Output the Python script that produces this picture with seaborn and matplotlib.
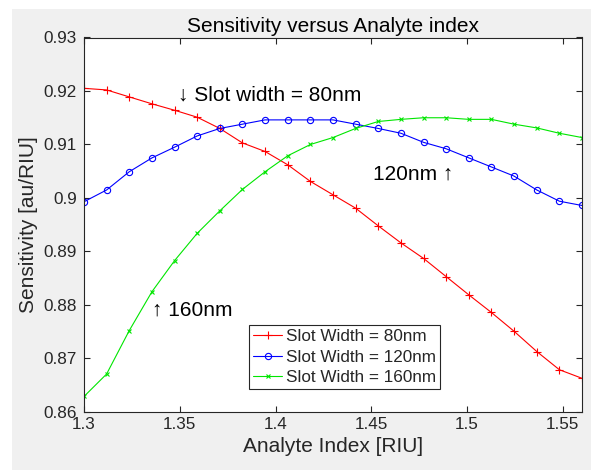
import pandas as pd
import matplotlib.pyplot as plt
import seaborn as sns
from matplotlib.patches import Rectangle
from matplotlib.ticker import FuncFormatter

analyte_index = [1.3, 1.3118, 1.3236, 1.3355, 1.3473, 1.3591, 1.3709, 1.3827,
                 1.3945, 1.4064, 1.4182, 1.43, 1.4418, 1.4536, 1.4655, 1.4773,
                 1.4891, 1.5009, 1.5127, 1.5245, 1.5364, 1.5482, 1.56]
sens_80 = [0.9205, 0.9202, 0.9189, 0.9176, 0.9164, 0.9151, 0.9130, 0.9103,
           0.9087, 0.9062, 0.9031, 0.9006, 0.8981, 0.8948, 0.8916, 0.8887,
           0.8853, 0.8819, 0.8786, 0.8751, 0.8713, 0.8679, 0.8663]
sens_120 = [0.8993, 0.9015, 0.9049, 0.9075, 0.9095, 0.9116, 0.9130, 0.9138,
            0.9146, 0.9146, 0.9146, 0.9146, 0.9138, 0.9130, 0.9121, 0.9104,
            0.9092, 0.9075, 0.9058, 0.9041, 0.9015, 0.8994, 0.8986]
sens_160 = [0.8629, 0.8671, 0.8752, 0.8825, 0.8883, 0.8934, 0.8976, 0.9016,
            0.9049, 0.9079, 0.9100, 0.9113, 0.9130, 0.9143, 0.9147, 0.9150,
            0.9150, 0.9147, 0.9147, 0.9138, 0.9131, 0.9121, 0.9113]
labels = ["Slot Width = 80nm", "Slot Width = 120nm", "Slot Width = 160nm"]
x_ticks = [1.3, 1.35, 1.4, 1.45, 1.5, 1.55]
y_ticks = [0.86, 0.87, 0.88, 0.89, 0.9, 0.91, 0.92, 0.93]

sns.set_theme(style="white")
plt.rcParams['font.family'] = ['Liberation Sans', 'DejaVu Sans']
dark = "#262626"

fig = plt.figure(figsize=(5.91, 4.70), dpi=100, facecolor="white")
# MATLAB-like grey figure area with a thin white margin on left / top
fig.patches.append(Rectangle((12 / 591, 0), 1, 1 - 9 / 470, transform=fig.transFigure,
                             facecolor="#f0f0f0", edgecolor="none", zorder=-10))
ax = fig.add_axes([84 / 591, 58 / 470, 498 / 591, 374.5 / 470])
ax.set_facecolor("white")

series = [
    (sens_80, "#ff0000", "+", 6, "#ff0000"),
    (sens_120, "#0000ff", "o", 4.5, "none"),
    (sens_160, "#00e600", "x", 3.5, "#00e600"),
]
for (vals, col, mk, ms, mfc), lab in zip(series, labels):
    df = pd.DataFrame({"x": analyte_index, "y": vals})
    sns.lineplot(data=df, x="x", y="y", ax=ax, color=col, marker=mk, markersize=ms,
                 markerfacecolor=mfc, markeredgecolor=col, markeredgewidth=0.8,
                 linewidth=0.8, label=lab)

ax.set_xlim(1.3, 1.56)
ax.set_ylim(0.86, 0.93)
ax.set_xticks(x_ticks)
ax.set_yticks(y_ticks)
fmt = FuncFormatter(lambda v, p: f"{v:g}")
ax.xaxis.set_major_formatter(fmt)
ax.yaxis.set_major_formatter(fmt)
ax.tick_params(axis="both", direction="in", length=4, width=0.8, colors=dark,
               labelsize=12.3, top=True, right=True, bottom=True, left=True)
ax.tick_params(axis="x", pad=3.5)
ax.tick_params(axis="y", pad=5)
for s in ax.spines.values():
    s.set_visible(True)
    s.set_color(dark)
    s.set_linewidth(0.8)

ax.set_title("Sensitivity versus Analyte index", fontsize=15, color="black", pad=4)
ax.set_xlabel("Analyte Index [RIU]", fontsize=15, color=dark, labelpad=4)
ax.set_ylabel("Sensitivity [au/RIU]", fontsize=15, color=dark, labelpad=4)

ax.text(1.349, 0.9182, "\u2193 Slot width = 80nm", fontsize=15, color="black",
        ha="left", va="baseline")
ax.text(1.4507, 0.9034, "120nm \u2191", fontsize=15, color="black",
        ha="left", va="baseline")
ax.text(1.3353, 0.8781, "\u2191 160nm", fontsize=15, color="black",
        ha="left", va="baseline")

leg = ax.legend(loc="upper left", bbox_to_anchor=(0.331, 0.232), borderaxespad=0,
                fontsize=12.3, frameon=True, fancybox=False, framealpha=1,
                edgecolor=dark, handlelength=1.7, handletextpad=0.2,
                labelspacing=0.3, borderpad=0.25)
leg.get_frame().set_linewidth(0.8)

fig.savefig("out.png", dpi=100)
